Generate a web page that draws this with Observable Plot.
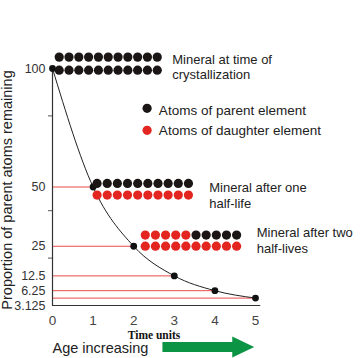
<!DOCTYPE html>
<html><head><meta charset="utf-8">
<script src="https://cdn.jsdelivr.net/npm/d3@7"></script>
<script src="https://cdn.jsdelivr.net/npm/@observablehq/plot@0.6"></script>
<style>body{margin:0;background:#fff}</style>
</head><body><div id="chart"></div>
<script>
// ---- data ----
const times = [0, 1, 2, 3, 4, 5];
const proportions = [100, 50, 25, 12.5, 6.25, 3.125];
const xTicks = [0, 1, 2, 3, 4, 5];
const yTickLabels = [100, 50, 25, 12.5, 6.25];
const yLowLabel = [3.125];
const yMinorTicks = [80, 40, 20];
const groupNames = ["Mineral at time of\ncrystallization", "Mineral after one\nhalf-life", "Mineral after two\nhalf-lives"];
const groupRows = [
  ["PPPPPPPPPPP", "PPPPPPPPPPP"],
  ["PPPPPPPPPP", "DDDDDDDDDD"],
  ["DDDDDPPPPP", "DDDDDDDDDD"]
];
const legendNames = ["Atoms of parent element", "Atoms of daughter element"];
const legendKeys = ["P", "D"];
const axisTitle = "Proportion of parent atoms remaining";
const xTitle = "Time units";
const ageLabel = "Age increasing";

// ---- layout (in time / proportion units) ----
const groupLayout = [
  {x0: 0.165, step: 0.2415, rowY: [104.8, 99.3], labelX: 2.95, labelY: 100.9, lh: 1.15},
  {x0: 1.098, step: 0.25, rowY: [51.5, 46.6], labelX: 3.86, labelY: 46.8, lh: 1.3},
  {x0: 2.285, step: 0.25, rowY: [29.7, 25.05], labelX: 5.03, labelY: 27.6, lh: 1.23}
];
const legendLayout = {dotX: 2.33, dotY: [83.2, 73.9], textX: 2.62, textY: [82.4, 73.9]};
const arrowSpec = {start: 2.72, head: 4.44, tip: 4.98};
const colors = {P: "#1b1515", D: "#e3261f"};

// build tables
const points = times.map((t, i) => ({t, p: proportions[i]}));
const atoms = [];
groupRows.forEach((rows, g) => {
  const L = groupLayout[g];
  rows.forEach((row, r) => {
    [...row].forEach((k, c) => atoms.push({x: L.x0 + c * L.step, y: L.rowY[r], k}));
  });
});
const legend = legendNames.map((name, i) => ({name, k: legendKeys[i], dx: legendLayout.dotX, dy: legendLayout.dotY[i], tx: legendLayout.textX, ty: legendLayout.textY[i]}));

function arrowMark(index, scales, values, dimensions) {
  const x0 = scales.x(arrowSpec.start), xh = scales.x(arrowSpec.head), xt = scales.x(arrowSpec.tip);
  const cy = dimensions.height - 11;
  return d3.create("svg:path")
    .attr("d", `M${x0},${cy - 5}H${xh}V${cy - 10.5}L${xt},${cy}L${xh},${cy + 10.5}V${cy + 5}H${x0}Z`)
    .attr("fill", "#0a9444")
    .node();
}

const textFont = "Liberation Sans, Arial, sans-serif";
const fmt = d => String(d);

const chart = Plot.plot({
  width: 360,
  height: 358,
  marginLeft: 52,
  marginRight: 105,
  marginTop: 68,
  marginBottom: 53,
  style: {fontFamily: textFont, background: "#fff"},
  x: {domain: [0, 5], axis: null},
  y: {domain: [0, 100], axis: null},
  marks: [
    // red reference lines
    Plot.ruleY(points.filter(d => d.t > 0), {y: "p", x1: 0, x2: "t", stroke: "#ec4b4b", strokeWidth: 1}),
    // axes lines
    Plot.ruleX([0], {stroke: "#333", strokeWidth: 1.2}),
    Plot.ruleY([0], {x1: 0, x2: 5.13, stroke: "#333", strokeWidth: 1.2}),
    Plot.axisY({ticks: yMinorTicks, tickSize: 4, tickFormat: () => "", stroke: "#555"}),
    Plot.axisY({ticks: yTickLabels, tickSize: 0, tickPadding: 7, tickFormat: fmt, fontSize: 12.5, fill: "#333", label: null}),
    Plot.axisY({ticks: yLowLabel, tickSize: 0, tickPadding: 7, tickFormat: fmt, fontSize: 12.5, fill: "#333", label: null, dy: 8}),
    Plot.axisX({ticks: xTicks, tickSize: 0, tickPadding: 10, tickFormat: fmt, fontSize: 13.5, fill: "#444", label: null}),
    // decay curve and points
    Plot.line(points, {x: "t", y: "p", curve: "monotone-x", stroke: "#222", strokeWidth: 1}),
    Plot.dot(points, {x: "t", y: "p", r: 3.4, fill: "#111"}),
    // atom groups
    Plot.dot(atoms, {x: "x", y: "y", r: 4.6, fill: d => colors[d.k]}),
    // group labels
    ...groupNames.map((name, g) => Plot.text([name], {
      x: groupLayout[g].labelX, y: groupLayout[g].labelY, text: d => d,
      textAnchor: "start", lineAnchor: "middle", lineHeight: groupLayout[g].lh,
      fontSize: 13, fill: "#222"
    })),
    // legend
    Plot.dot(legend, {x: "dx", y: "dy", r: 4.6, fill: d => colors[d.k]}),
    Plot.text(legend, {x: "tx", y: "ty", text: "name", textAnchor: "start", fontSize: 13.5, fill: "#222"}),
    // titles
    Plot.text([axisTitle], {frameAnchor: "left", dx: -45, dy: 3, rotate: -90, textAnchor: "middle", lineAnchor: "middle", text: d => d, fontSize: 14.5, fill: "#222"}),
    Plot.text([xTitle], {frameAnchor: "bottom", dy: 30, textAnchor: "middle", lineAnchor: "middle", text: d => d, fontSize: 11.5, fontWeight: "bold", fontFamily: "Liberation Serif, Times New Roman, serif", fill: "#111"}),
    Plot.text([ageLabel], {frameAnchor: "bottom-left", dy: 43, textAnchor: "start", lineAnchor: "middle", text: d => d, fontSize: 14.5, fill: "#222"}),
    arrowMark
  ]
});
document.getElementById("chart").appendChild(chart);
</script>
</body></html>
